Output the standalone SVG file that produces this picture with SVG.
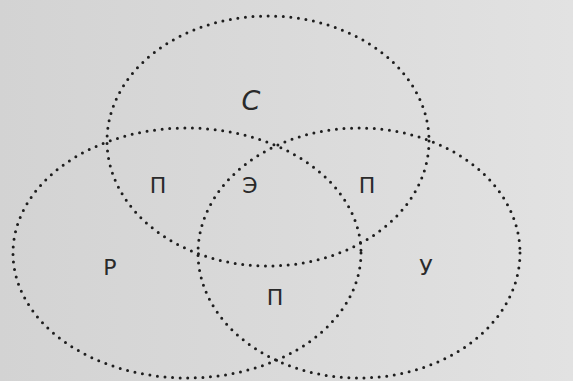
<svg xmlns="http://www.w3.org/2000/svg" width="573" height="381" viewBox="0 0 573 381">
<defs>
<linearGradient id="bg" x1="0" y1="0" x2="1" y2="0">
<stop offset="0" stop-color="#d3d3d3"/>
<stop offset="0.5" stop-color="#dadada"/>
<stop offset="1" stop-color="#e2e2e2"/>
</linearGradient>
<style>
.set{fill:none;stroke:#1e1e1e;stroke-width:3;stroke-linecap:round;stroke-dasharray:0 7.6}
.lbl{font-family:"DejaVu Sans","Liberation Sans",sans-serif;font-size:22px;fill:#2a2a2a;text-anchor:middle}
.it{font-style:italic;font-size:27px}
</style>
</defs>
<rect width="573" height="381" fill="url(#bg)"/>
<g id="set-S">
<ellipse class="set" cx="268" cy="141" rx="161" ry="125"/>
<text class="lbl it" x="251" y="110">С</text>
</g>
<g id="set-R">
<ellipse class="set" cx="187" cy="253" rx="174" ry="125"/>
<text class="lbl" x="110" y="275">Р</text>
</g>
<g id="set-U">
<ellipse class="set" cx="359" cy="253" rx="161" ry="125"/>
<text class="lbl" x="426" y="275">У</text>
</g>
<g id="regions">
<text class="lbl" x="158" y="193">П</text>
<text class="lbl" x="250" y="193">Э</text>
<text class="lbl" x="367" y="193">П</text>
<text class="lbl" x="275" y="305">П</text>
</g>
</svg>
